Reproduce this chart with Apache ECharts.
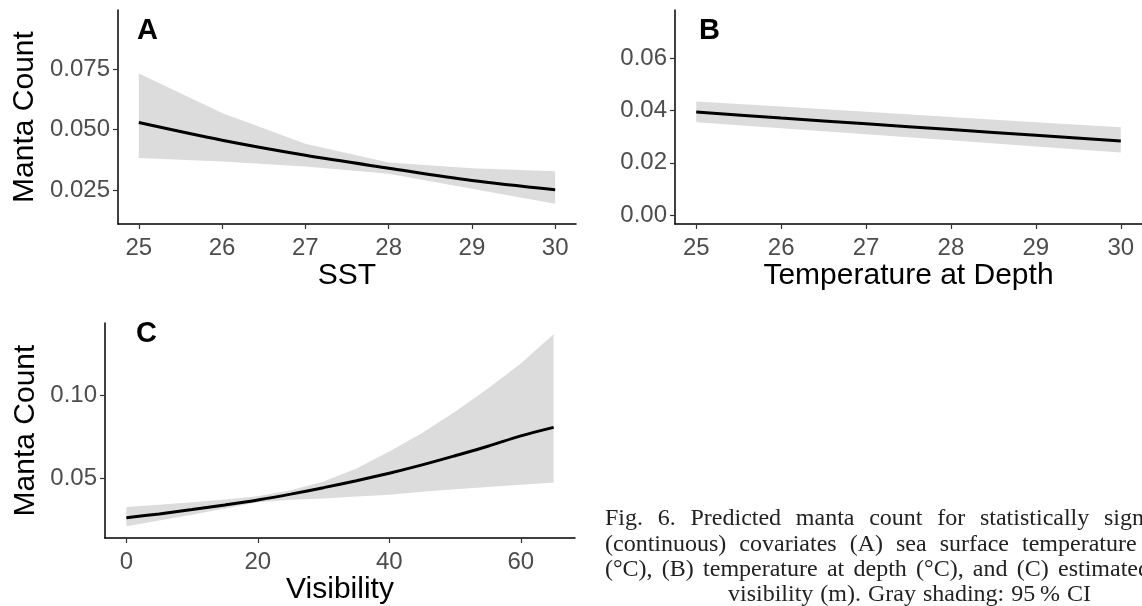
<!DOCTYPE html>
<html>
<head>
<meta charset="utf-8">
<script src="https://cdn.jsdelivr.net/npm/echarts@6/dist/echarts.min.js"></script>
<style>
html, body { margin: 0; padding: 0; background: #fff; }
#chart { width: 1142px; height: 606px; }
</style>
</head>
<body>
<div id="chart"></div>
<script>
// panel A - SST
var sstX = [25, 26, 27, 28, 29, 30];
var sstFit = [0.0529, 0.0456, 0.0394, 0.0341, 0.0290, 0.0252];
var sstLow = [0.0383, 0.0369, 0.0348, 0.0318, 0.0256, 0.0194];
var sstHigh = [0.0731, 0.0569, 0.0442, 0.0364, 0.0341, 0.0328];

// panel B - temperature at depth
var depthX = [25, 26, 27, 28, 29, 30];
var depthFit = [0.0394, 0.0371, 0.0349, 0.0327, 0.0305, 0.0283];
var depthLow = [0.0355, 0.0332, 0.0309, 0.0286, 0.0262, 0.0239];
var depthHigh = [0.0435, 0.0415, 0.0395, 0.0375, 0.0355, 0.0336];

// panel C - visibility
var visX = [0, 5, 10, 15, 20, 25, 30, 35, 40, 45, 50, 55, 60, 65];
var visFit = [0.0262, 0.0285, 0.0311, 0.0339, 0.0369, 0.0404, 0.0443, 0.0485, 0.0530, 0.0580, 0.0635, 0.0692, 0.0755, 0.0806];
var visLow = [0.0210, 0.0245, 0.0280, 0.0318, 0.0355, 0.0370, 0.0378, 0.0390, 0.0400, 0.0418, 0.0433, 0.0447, 0.0460, 0.0474];
var visHigh = [0.0326, 0.0340, 0.0355, 0.0372, 0.0392, 0.0428, 0.0480, 0.0558, 0.0660, 0.0772, 0.0900, 0.1040, 0.1190, 0.1366];

// ticks
var tempTicks = [25, 26, 27, 28, 29, 30];
var visTicks = [0, 20, 40, 60];
var sstYTicks = [0.025, 0.05, 0.075];
var depthYTicks = [0, 0.02, 0.04, 0.06];
var visYTicks = [0.05, 0.10];

var captionLines = [
    'Fig. 6. Predicted manta count for statistically significant',
    '(continuous) covariates (A) sea surface temperature',
    '(\u00b0C), (B) temperature at depth (\u00b0C), and (C) estimated',
    'visibility (m). Gray shading: 95\u2009% CI'
];

var FONT = '"Liberation Sans", Arial, Helvetica, sans-serif';
var BAND = '#dcdcdc';

var chart = echarts.init(document.getElementById('chart'));

function pairs(xs, ys) {
    return xs.map(function (x, i) { return [x, ys[i]]; });
}

function band(xs, lo, hi, idx) {
    return {
        type: 'custom',
        xAxisIndex: idx,
        yAxisIndex: idx,
        silent: true,
        z: 1,
        data: xs.map(function (x, i) { return [x, lo[i], hi[i]]; }),
        encode: { x: 0, y: [1, 2] },
        renderItem: function (params, api) {
            if (params.dataIndex !== 0) return null;
            var pts = [];
            for (var i = 0; i < xs.length; i++) pts.push(api.coord([xs[i], hi[i]]));
            for (var j = xs.length - 1; j >= 0; j--) pts.push(api.coord([xs[j], lo[j]]));
            return { type: 'polygon', shape: { points: pts }, style: { fill: BAND } };
        }
    };
}

function fitLine(xs, ys, idx) {
    return {
        type: 'line',
        xAxisIndex: idx,
        yAxisIndex: idx,
        data: pairs(xs, ys),
        symbol: 'none',
        smooth: 0.3,
        silent: true,
        z: 3,
        lineStyle: { color: '#000', width: 3 }
    };
}

function xAxis(idx, min, max, ticks, name) {
    return {
        type: 'value', gridIndex: idx, min: min, max: max,
        name: name, nameLocation: 'middle', nameGap: 37,
        nameTextStyle: { fontSize: 30, color: '#000', fontFamily: FONT },
        axisLine: { show: true, onZero: false, lineStyle: { color: '#000', width: 1.5 } },
        axisTick: { show: true, length: 5, customValues: ticks, lineStyle: { color: '#333', width: 1.2 } },
        axisLabel: { customValues: ticks, fontSize: 24, color: '#4d4d4d', margin: 12, fontFamily: FONT },
        splitLine: { show: false }
    };
}

function yAxis(idx, min, max, ticks, digits, name, gap) {
    return {
        type: 'value', gridIndex: idx, min: min, max: max,
        name: name, nameLocation: 'middle', nameGap: gap,
        nameTextStyle: { fontSize: 30, color: '#000', fontFamily: FONT },
        axisLine: { show: true, onZero: false, lineStyle: { color: '#000', width: 1.5 } },
        axisTick: { show: true, length: 5, customValues: ticks, lineStyle: { color: '#333', width: 1.2 } },
        axisLabel: {
            customValues: ticks, fontSize: 24, color: '#4d4d4d', margin: 8, fontFamily: FONT,
            formatter: function (v) { return v.toFixed(digits); }
        },
        splitLine: { show: false }
    };
}

// caption words, spread like the justified text of the figure
var capFont = '24px "Liberation Serif", "Times New Roman", serif';
var capPlace = [
    { x0: 605, xLast: 1104, y: 527 },
    { x0: 605, xLast: 1022, y: 553 },
    { x0: 605, xLast: 1058, y: 578 },
    { x0: 728, xLast: 1067, y: 603 }
];
var ctx = document.createElement('canvas').getContext('2d');
ctx.font = capFont;
var graphics = [];
captionLines.forEach(function (line, k) {
    var words = line.split(' ');
    var p = capPlace[k];
    var used = 0;
    for (var i = 0; i < words.length - 1; i++) used += ctx.measureText(words[i]).width;
    var gap = (p.xLast - p.x0 - used) / (words.length - 1);
    var x = p.x0;
    words.forEach(function (w) {
        graphics.push({
            type: 'text', x: x, y: p.y - 8, silent: true,
            style: { text: w, font: capFont, fill: '#222', textAlign: 'left', textVerticalAlign: 'middle', align: 'left', verticalAlign: 'middle' }
        });
        x += ctx.measureText(w).width + gap;
    });
});

[['A', 137, 31], ['B', 699, 31], ['C', 136, 334]].forEach(function (l) {
    graphics.push({
        type: 'text', x: l[1], y: l[2], silent: true,
        style: { text: l[0], font: 'bold 29px ' + FONT, fill: '#000', textAlign: 'left', textVerticalAlign: 'middle', align: 'left', verticalAlign: 'middle' }
    });
});

var option = {
    backgroundColor: '#fff',
    animation: false,
    grid: [
        { left: 118, top: 10, width: 458, height: 214 },
        { left: 675, top: 10, width: 470, height: 214 },
        { left: 105, top: 323, width: 470, height: 215 }
    ],
    xAxis: [
        xAxis(0, 24.75, 30.25, tempTicks, 'SST'),
        xAxis(1, 24.75, 30.25, tempTicks, 'Temperature at Depth'),
        xAxis(2, -3.25, 68.25, visTicks, 'Visibility')
    ],
    yAxis: [
        yAxis(0, 0.0111, 0.0993, sstYTicks, 3, 'Manta Count', 78),
        yAxis(1, -0.00345, 0.0785, depthYTicks, 2, '', 60),
        yAxis(2, 0.0140, 0.1434, visYTicks, 2, 'Manta Count', 64)
    ],
    series: [
        band(sstX, sstLow, sstHigh, 0),
        fitLine(sstX, sstFit, 0),
        band(depthX, depthLow, depthHigh, 1),
        fitLine(depthX, depthFit, 1),
        band(visX, visLow, visHigh, 2),
        fitLine(visX, visFit, 2)
    ],
    graphic: graphics
};

chart.setOption(option);
</script>
</body>
</html>
